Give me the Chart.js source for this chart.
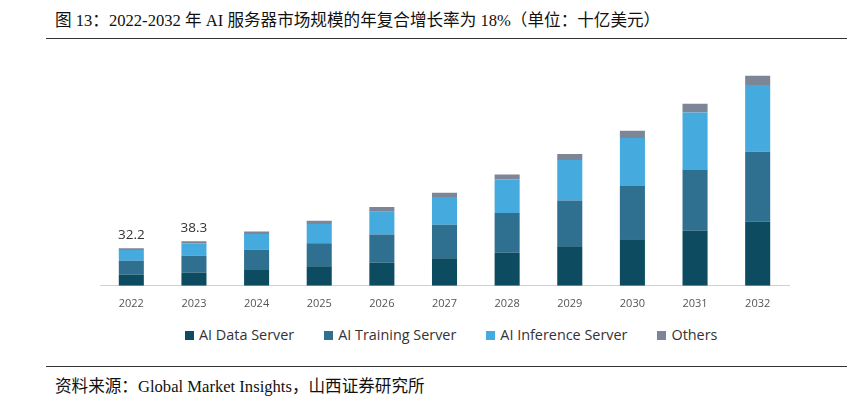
<!DOCTYPE html>
<html lang="zh">

<head>
    <meta charset="UTF-8">
    <title>AI服务器市场规模</title>
    <script src="https://cdn.jsdelivr.net/npm/chart.js"></script>
    <style>
        body { margin: 0; width: 847px; height: 398px; background: #fff; position: relative; overflow: hidden; }
        .cap { position: absolute; left: 55px; font-family: "Liberation Serif", "Noto Sans CJK SC", serif; font-size: 16.6px; color: #111; white-space: nowrap; }
        .rule { position: absolute; left: 46px; right: 0; height: 1px; background: #333; }
        #legend { position: absolute; top: 325px; left: 185px; display: flex; gap: 30px; font-family: "Open Sans", sans-serif; font-size: 14.4px; color: #333; }
        #legend span.box { display: inline-block; width: 9px; height: 9px; margin-right: 5px; }
    </style>
</head>

<body>
    <div class="cap" style="top: 7px;">图 13：2022-2032 年 AI 服务器市场规模的年复合增长率为 18%（单位：十亿美元）</div>
    <div class="rule" style="top: 38px;"></div>
    <div style="position: absolute; left: 0; top: 0; width: 847px; height: 313px;">
        <canvas id="myChart"></canvas>
    </div>
    <div id="legend"></div>
    <div class="rule" style="top: 366px;"></div>
    <div class="cap" style="top: 373px;">资料来源：Global Market Insights，山西证券研究所</div>
    <script>
        // 十亿美元
        const years = ['2022', '2023', '2024', '2025', '2026', '2027', '2028', '2029', '2030', '2031', '2032'];
        const dataServer = [9.5, 11.5, 13.6, 16.7, 19.9, 23.6, 28.5, 34.0, 40.0, 47.5, 55.3];
        const trainingServer = [12.1, 14.4, 17.3, 19.9, 24.2, 28.8, 34.0, 39.2, 46.1, 52.5, 59.9];
        const inferenceServer = [9.2, 10.7, 13.5, 16.4, 19.6, 23.9, 28.8, 34.8, 40.9, 49.0, 57.3];
        const others = [1.4, 1.7, 2.3, 2.9, 4.0, 3.7, 4.3, 5.2, 6.3, 7.5, 8.0];
        const totalLabels = ['32.2', '38.3', '', '', '', '', '', '', '', '', ''];

        const seriesNames = ['AI Data Server', 'AI Training Server', 'AI Inference Server', 'Others'];
        const colors = ['#0d4b61', '#2f6f90', '#45aade', '#7c8696'];

        const totalsPlugin = {
            id: 'totals',
            afterDatasetsDraw(chart) {
                const ctx = chart.ctx;
                const x = chart.scales.x, y = chart.scales.y;
                ctx.save();
                ctx.font = '13.5px "Open Sans", sans-serif';
                ctx.fillStyle = '#333';
                ctx.textAlign = 'center';
                ctx.textBaseline = 'bottom';
                totalLabels.forEach((t, i) => {
                    if (!t) return;
                    let sum = 0;
                    chart.data.datasets.forEach(ds => { sum += ds.data[i]; });
                    ctx.fillText(t, x.getPixelForValue(i), y.getPixelForValue(sum) - 6);
                });
                ctx.restore();
            }
        };

        drawChart('myChart');

        function drawChart(tag) {
            const list = [dataServer, trainingServer, inferenceServer, others];
            const chart = new Chart(document.getElementById(tag), {
                type: 'bar',
                data: {
                    labels: years,
                    datasets: list.map((d, i) => ({
                        label: seriesNames[i],
                        data: d,
                        backgroundColor: colors[i],
                        barPercentage: 0.4,
                        categoryPercentage: 1
                    }))
                },
                options: {
                    responsive: true,
                    maintainAspectRatio: false,
                    animation: false,
                    layout: { padding: { top: 60, left: 100, right: 58, bottom: 0 } },
                    plugins: { legend: { display: false }, tooltip: { enabled: false } },
                    scales: {
                        x: {
                            stacked: true,
                            grid: { display: false },
                            border: { color: '#d0d0d0' },
                            ticks: { color: '#555', padding: 3, font: { family: 'Open Sans', size: 11 } }
                        },
                        y: {
                            stacked: true,
                            display: false,
                            min: 0,
                            max: 194
                        }
                    }
                },
                plugins: [totalsPlugin]
            });

            // 图例
            const lg = document.getElementById('legend');
            seriesNames.forEach((n, i) => {
                const item = document.createElement('div');
                item.innerHTML = '<span class="box" style="background:' + colors[i] + '"></span>' + n;
                lg.appendChild(item);
            });
        }
    </script>
</body>

</html>
